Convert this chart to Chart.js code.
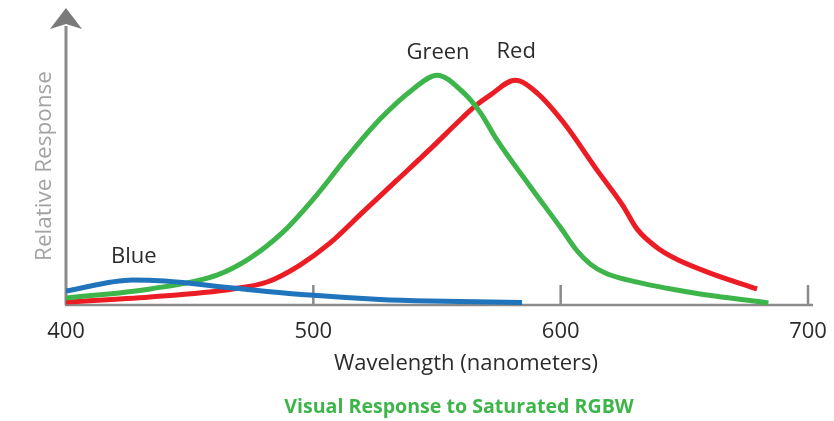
<!DOCTYPE html>
<html><head><meta charset="utf-8">
<script src="https://cdn.jsdelivr.net/npm/chart.js@4"></script>
<style>html,body{margin:0;padding:0;background:#fff;overflow:hidden}</style>
</head><body>
<canvas id="c" width="834" height="421"></canvas>
<script>
// ---- data ----
const seriesNames = ['Blue', 'Green', 'Red'];
const blueNm  = [400, 427, 440, 467.5, 498.7, 527, 547, 584.4];
const blueVal = [6.1, 10.9, 10.4, 7.4, 4.3, 2.4, 1.7, 1.1];
const greenNm  = [400, 434, 461, 474.4, 487.7, 500, 513.6, 527, 540.3, 550, 560.5, 567.4, 574.3, 587.6, 599.8, 606.7, 612, 618, 627, 654, 684];
const greenVal = [3.0, 7.0, 13.0, 20.4, 31.7, 46.1, 64.3, 80.9, 93.9, 100, 92.6, 83.9, 71.7, 51.7, 33.9, 23.5, 17.8, 13.9, 10.9, 5.2, 0.9];
const redNm  = [400, 434, 467.5, 481.3, 494.6, 506.8, 520, 533.8, 547.2, 560.5, 565.4, 571.5, 581.6, 590.5, 601, 614.7, 625, 630.9, 640.2, 647.1, 660.4, 679.4];
const redVal = [1.3, 3.5, 7.0, 10.0, 17.4, 27.0, 40.4, 54.3, 67.8, 81.7, 86.5, 91.3, 97.8, 92.2, 79.6, 58.7, 43.5, 33.0, 24.0, 19.8, 13.9, 7.0];
const xTicks = [400, 500, 600, 700];
const xTitle = 'Wavelength (nanometers)';
const yTitle = 'Relative Response';
const chartTitle = 'Visual Response to Saturated RGBW';

// ---- styles ----
const colors = ['#1f74bc', '#3db54a', '#ec1c24'];
const labelLift = [23, 22, 28];
const FONT = '"Open Sans", Lato, sans-serif';
const AXIS = '#8a8a8a';

const toPts = (xs, ys) => xs.map((x, i) => ({x: x, y: ys[i]}));
const allNm = [blueNm, greenNm, redNm];
const allVal = [blueVal, greenVal, redVal];

const decor = {
  id: 'decor',
  beforeDatasetsDraw(chart) {
    const {ctx, chartArea: a, scales: {x}} = chart;
    ctx.save();
    ctx.strokeStyle = AXIS;
    ctx.lineWidth = 2.5;
    // x axis
    ctx.beginPath(); ctx.moveTo(a.left - 1, a.bottom); ctx.lineTo(a.right + 5, a.bottom); ctx.stroke();
    // y axis
    ctx.lineWidth = 3;
    ctx.beginPath(); ctx.moveTo(a.left, a.bottom); ctx.lineTo(a.left, a.top + 6); ctx.stroke();
    // arrow head
    ctx.fillStyle = '#7a7a7a';
    ctx.beginPath();
    ctx.moveTo(a.left, a.top - 12);
    ctx.lineTo(a.left + 16, a.top + 9);
    ctx.lineTo(a.left, a.top + 4);
    ctx.lineTo(a.left - 16, a.top + 9);
    ctx.closePath(); ctx.fill();
    // tick marks
    ctx.lineWidth = 2.5;
    xTicks.forEach((t, i) => {
      if (i === 0) return;
      const px = x.getPixelForValue(t);
      ctx.beginPath(); ctx.moveTo(px, a.bottom - 20); ctx.lineTo(px, a.bottom); ctx.stroke();
    });
    ctx.restore();
  },
  afterDraw(chart) {
    const {ctx, chartArea: a, scales: {x, y}} = chart;
    ctx.save();
    ctx.textAlign = 'center'; ctx.textBaseline = 'middle';
    ctx.fillStyle = '#2b2b2b';
    ctx.font = '22px ' + FONT;
    xTicks.forEach(t => ctx.fillText(String(t), x.getPixelForValue(t), a.bottom + 27));
    ctx.fillText(xTitle, (a.left + a.right) / 2 + 29, a.bottom + 59);
    // series labels
    allVal.forEach((vals, s) => {
      let m = 0; vals.forEach((v, i) => { if (v > vals[m]) m = i; });
      ctx.fillText(seriesNames[s], x.getPixelForValue(allNm[s][m]) + 1, y.getPixelForValue(vals[m]) - labelLift[s]);
    });
    // y title
    ctx.fillStyle = '#a3a3a3';
    ctx.font = '22.5px ' + FONT;
    ctx.save();
    ctx.translate(a.left - 21, 166);
    ctx.rotate(-Math.PI / 2);
    ctx.fillText(yTitle, 0, 0);
    ctx.restore();
    // chart title
    ctx.fillStyle = '#3db54a';
    ctx.font = 'bold 19.6px ' + FONT;
    ctx.fillText(chartTitle, 459, 407);
    ctx.restore();
  }
};

new Chart(document.getElementById('c'), {
  type: 'line',
  data: {
    datasets: seriesNames.map((n, s) => ({
      label: n,
      data: toPts(allNm[s], allVal[s]),
      borderColor: colors[s],
      borderWidth: 5,
      pointRadius: 0,
      cubicInterpolationMode: 'monotone',
      fill: false
    }))
  },
  options: {
    responsive: false,
    animation: false,
    devicePixelRatio: 1,
    layout: {padding: {left: 66, right: 26, top: 20, bottom: 116}},
    plugins: {legend: {display: false}, tooltip: {enabled: false}, title: {display: false}},
    scales: {
      x: {type: 'linear', min: 400, max: 700, display: false},
      y: {min: 0, max: 124, display: false}
    }
  },
  plugins: [decor]
});
</script>
</body></html>
